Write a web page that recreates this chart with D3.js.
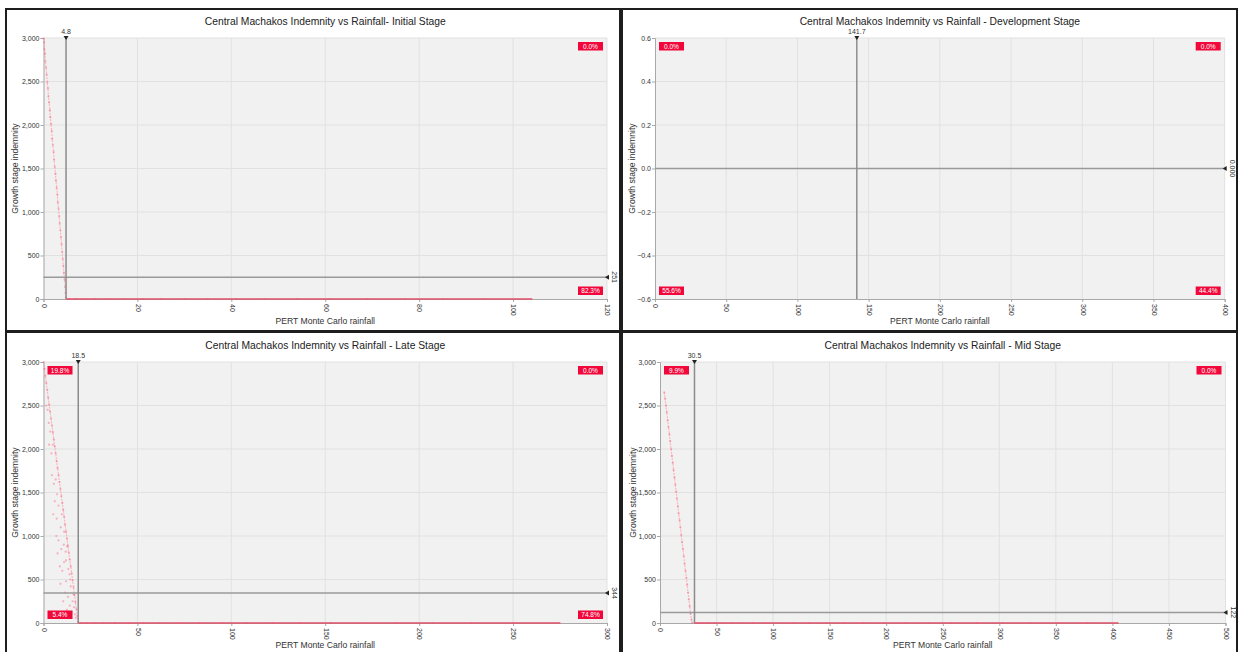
<!DOCTYPE html>
<html>
<head>
<meta charset="utf-8">
<script src="https://cdn.jsdelivr.net/npm/d3@7"></script>
<style>
  body { margin: 0; background: #fff; }
  svg { display: block; }
  text { font-family: "Liberation Sans", Arial, sans-serif; }
</style>
</head>
<body>
<script>
// ---- data ----
const titles = [
    'Central Machakos Indemnity vs Rainfall- Initial Stage',
    'Central Machakos Indemnity vs Rainfall - Development Stage',
    'Central Machakos Indemnity vs Rainfall - Late Stage',
    'Central Machakos Indemnity vs Rainfall - Mid Stage',
];
const xLabel = 'PERT Monte Carlo rainfall';
const yLabel = 'Growth stage indemnity';

const xTicksInitial = [0, 20, 40, 60, 80, 100, 120];
const xTicksDev = [0, 50, 100, 150, 200, 250, 300, 350, 400];
const xTicksLate = [0, 50, 100, 150, 200, 250, 300];
const xTicksMid = [0, 50, 100, 150, 200, 250, 300, 350, 400, 450, 500];
const yTicksIndemnity = [0, 500, 1000, 1500, 2000, 2500, 3000];
const yTicksDev = [-0.6, -0.4, -0.2, 0, 0.2, 0.4, 0.6];

// reference lines [rainfall, indemnity]
const refInitial = [4.8, 251];
const refDev = [141.7, 0];
const refLate = [18.5, 344];
const refMid = [30.5, 122];

// quadrant percentages [top-left, top-right, bottom-left, bottom-right]
const pctInitial = [null, '0.0%', null, '82.3%'];
const pctDev = ['0.0%', '0.0%', '55.6%', '44.4%'];
const pctLate = ['19.8%', '0.0%', '5.4%', '74.8%'];
const pctMid = ['9.9%', '0.0%', null, null];

// scatter samples [rainfall, indemnity]
const initialPoints = [
    [0.02, 2995], [0.12, 2950], [0.18, 2870], [0.32, 2820], [0.4, 2730], [0.55, 2660], [0.68, 2580],
    [0.8, 2490], [0.95, 2420], [1.05, 2330], [1.2, 2260], [1.35, 2170], [1.45, 2090], [1.6, 2010],
    [1.75, 1930], [1.85, 1840], [2.0, 1770], [2.15, 1690], [2.25, 1600], [2.4, 1520], [2.55, 1440],
    [2.65, 1360], [2.8, 1280], [2.95, 1200], [3.05, 1110], [3.2, 1040], [3.35, 950], [3.45, 870],
    [3.6, 790], [3.72, 710], [3.85, 630], [3.98, 540], [4.1, 460], [4.22, 380], [4.35, 300],
    [4.48, 220], [4.6, 140], [4.7, 70], [4.78, 15],
];
const initialZero = [4.9, 5.5, 7, 9, 11, 14, 17, 21, 25, 30, 35, 41, 47, 54, 61, 69, 77, 85, 94, 104];

// late stage: dense edge of the cloud, then loose samples inside it
const lateEdge = [
    [0, 3000], [0.5, 2920], [1, 2840], [1.5, 2760], [2, 2680], [2.5, 2590], [3, 2510], [3.5, 2430],
    [4, 2350], [4.5, 2270], [5, 2190], [5.5, 2110], [6, 2030], [6.5, 1950], [7, 1860], [7.5, 1780],
    [8, 1700], [8.5, 1620], [9, 1540], [9.5, 1460], [10, 1380], [10.5, 1300], [11, 1220], [11.5, 1130],
    [12, 1050], [12.5, 970], [13, 890], [13.5, 810], [14, 730], [14.5, 650], [15, 570], [15.5, 490],
    [16, 410], [16.5, 320], [17, 240], [17.5, 160], [18, 80], [18.4, 15],
];
const lateCloud = [
    [1.5, 2500], [2.8, 2300], [3, 2050], [4.2, 1950], [4.5, 1700], [5.5, 1600], [6, 1400], [5.2, 1250],
    [7, 1200], [6.8, 1000], [8, 950], [7.5, 800], [9.5, 850], [8.7, 650], [10, 600], [11, 700],
    [9, 450], [12, 480], [11.5, 350], [13, 300], [10.5, 250], [14, 200], [12.5, 150], [15, 120],
    [16, 330], [14.5, 420], [13.8, 560], [12, 720], [10.8, 900], [9.2, 1100], [8, 1350], [6.5, 1650],
    [5, 2050], [15.5, 250], [16.8, 100], [13.2, 620], [11.8, 820], [7.2, 1480], [3.6, 2200],
    [2.2, 2450], [9.8, 1250], [11, 1050], [12.6, 880], [14.2, 500], [16.2, 180], [17.2, 60],
];
const lateZero = [18.6, 20, 23, 27, 32, 38, 45, 53, 62, 72, 83, 95, 108, 122, 137, 153, 170, 188, 207, 228, 250, 275];

const midPoints = [
    [3.8, 2650], [4.5, 2580], [5.2, 2500], [6, 2420], [6.8, 2330], [7.5, 2250], [8.3, 2170], [9, 2090],
    [9.8, 2000], [10.5, 1920], [11.3, 1840], [12, 1760], [12.8, 1670], [13.5, 1590], [14.3, 1510],
    [15, 1430], [15.8, 1340], [16.5, 1260], [17.3, 1180], [18, 1100], [18.8, 1010], [19.5, 930],
    [20.3, 850], [21, 770], [21.8, 680], [22.5, 600], [23.3, 520], [24, 440], [24.8, 350], [25.5, 270],
    [26.3, 190], [27, 110], [27.8, 40], [28.5, 5],
];
const midZero = [30.6, 33, 37, 42, 48, 55, 63, 72, 82, 93, 105, 118, 132, 147, 163, 180, 198, 217, 237, 258, 280, 303, 327, 352, 378, 405];

const pointColor = '#ff4d6d';
const traceColor = '#ff8da1';
const zeroColor = '#de5068';
const badgeColor = '#f2073a';

const svg = d3.select('body')
    .append('svg')
    .attr('width', 1239)
    .attr('height', 652);

const panels = [
    {
        title: titles[0], frame: [6, 9, 614, 322], plot: [43.5, 38, 607, 299],
        xDomain: [0, 120], yDomain: [0, 3000], xTicks: xTicksInitial, yTicks: yTicksIndemnity,
        yFormat: d3.format(','), ref: refInitial, refFormat: d3.format('d'), pct: pctInitial,
        trace: initialPoints, points: [], zero: initialZero, yLabelX: 15,
    },
    {
        title: titles[1], frame: [622, 9, 615, 322], plot: [655, 38, 1224.7, 299],
        xDomain: [0, 400], yDomain: [-0.6, 0.6], xTicks: xTicksDev, yTicks: yTicksDev,
        yFormat: d3.format('.1f'), ref: refDev, refFormat: d3.format('.3f'), pct: pctDev,
        trace: [], points: [], zero: [], yLabelX: 632,
    },
    {
        title: titles[2], frame: [6, 332, 614, 330], plot: [43.5, 362, 607, 623],
        xDomain: [0, 300], yDomain: [0, 3000], xTicks: xTicksLate, yTicks: yTicksIndemnity,
        yFormat: d3.format(','), ref: refLate, refFormat: d3.format('d'), pct: pctLate,
        trace: lateEdge, points: lateCloud, zero: lateZero, yLabelX: 15,
    },
    {
        title: titles[3], frame: [622, 332, 615, 330], plot: [660, 362, 1225.5, 623],
        xDomain: [0, 500], yDomain: [0, 3000], xTicks: xTicksMid, yTicks: yTicksIndemnity,
        yFormat: d3.format(','), ref: refMid, refFormat: d3.format('d'), pct: pctMid,
        trace: midPoints, points: [], zero: midZero, yLabelX: 633,
    },
];

panels.forEach(drawPanel);

function drawPanel(p) {
    const [left, top, right, bottom] = p.plot;
    const g = svg.append('g');

    g.append('rect')
        .attr('x', p.frame[0]).attr('y', p.frame[1])
        .attr('width', p.frame[2]).attr('height', p.frame[3])
        .attr('fill', '#fff')
        .attr('stroke', '#1e1e1e')
        .attr('stroke-width', 2);

    const x = d3.scaleLinear().domain(p.xDomain).range([left, right]);
    const y = d3.scaleLinear().domain(p.yDomain).range([bottom, top]);

    // plot background + grid
    g.append('rect')
        .attr('x', left).attr('y', top)
        .attr('width', right - left).attr('height', bottom - top)
        .attr('fill', '#f1f1f1');
    g.append('g').selectAll('line')
        .data(p.xTicks.slice(1))
        .join('line')
        .attr('x1', d => x(d)).attr('x2', d => x(d))
        .attr('y1', top).attr('y2', bottom)
        .attr('stroke', '#e1e1e1');
    g.append('g').selectAll('line')
        .data(p.yTicks.slice(1))
        .join('line')
        .attr('x1', left).attr('x2', right)
        .attr('y1', d => y(d)).attr('y2', d => y(d))
        .attr('stroke', '#e1e1e1');

    // axes
    const yAxisG = g.append('g')
        .attr('transform', `translate(${left},0)`)
        .call(d3.axisLeft(y).tickValues(p.yTicks).tickFormat(p.yFormat).tickSize(3).tickPadding(1));
    const xAxisG = g.append('g')
        .attr('transform', `translate(0,${bottom})`)
        .call(d3.axisBottom(x).tickValues(p.xTicks).tickFormat(d3.format('d')).tickSize(3));
    xAxisG.selectAll('text')
        .attr('y', 0).attr('x', 5).attr('dy', '0.32em')
        .attr('transform', 'rotate(90)')
        .style('text-anchor', 'start');
    [yAxisG, xAxisG].forEach(a => {
        a.select('.domain').attr('stroke', '#a8a8a8');
        a.selectAll('.tick line').attr('stroke', '#a8a8a8');
        a.selectAll('text').attr('fill', '#333').style('font-size', '7px');
    });

    // scatter
    const line = d3.line().x(d => x(d[0])).y(d => y(d[1]));
    if (p.trace.length) {
        g.append('path')
            .datum(p.trace)
            .attr('fill', 'none')
            .attr('stroke', traceColor)
            .attr('stroke-width', 1.1)
            .attr('stroke-dasharray', '2,1')
            .attr('stroke-opacity', 0.6)
            .attr('d', line);
    }
    const zeroPts = p.zero.map(r => [r, 0]);
    if (zeroPts.length) {
        g.append('path')
            .datum(zeroPts)
            .attr('fill', 'none')
            .attr('stroke', zeroColor)
            .attr('stroke-width', 1.5)
            .attr('d', line);
    }
    g.append('g').selectAll('circle')
        .data(p.trace.concat(p.points, zeroPts))
        .join('circle')
        .attr('cx', d => x(d[0]))
        .attr('cy', d => y(d[1]))
        .attr('r', 1.1)
        .attr('fill', pointColor)
        .attr('fill-opacity', 0.4);

    // reference lines
    const rx = x(p.ref[0]);
    const ry = y(p.ref[1]);
    g.append('line')
        .attr('x1', left).attr('x2', right).attr('y1', ry).attr('y2', ry)
        .attr('stroke', '#9a9a9a').attr('stroke-width', 1.5);
    g.append('line')
        .attr('x1', rx).attr('x2', rx).attr('y1', top).attr('y2', bottom)
        .attr('stroke', '#8c8c8c').attr('stroke-width', 1.5);
    g.append('path')
        .attr('d', `M${rx - 2.5},${top - 2}L${rx + 2.5},${top - 2}L${rx},${top + 2}Z`)
        .attr('fill', '#222');
    g.append('text')
        .attr('x', rx).attr('y', top - 4)
        .attr('text-anchor', 'middle')
        .attr('fill', '#333')
        .style('font-size', '7px')
        .text(d3.format('.1f')(p.ref[0]));
    g.append('path')
        .attr('d', `M${right + 2},${ry - 2.5}L${right + 2},${ry + 2.5}L${right - 2},${ry}Z`)
        .attr('fill', '#222');
    g.append('text')
        .attr('transform', `translate(${right + 5},${ry}) rotate(90)`)
        .attr('text-anchor', 'middle')
        .attr('fill', '#333')
        .style('font-size', '7px')
        .text(p.refFormat(p.ref[1]));

    // quadrant badges
    const bw = 25, bh = 8.5;
    const spots = [
        [left + 4, top + 4], [right - 4 - bw, top + 4],
        [left + 4, bottom - 4 - bh], [right - 4 - bw, bottom - 4 - bh],
    ];
    p.pct.forEach((t, i) => {
        if (t === null) return;
        const b = g.append('g').attr('transform', `translate(${spots[i][0]},${spots[i][1]})`);
        b.append('rect').attr('width', bw).attr('height', bh).attr('fill', badgeColor);
        b.append('text')
            .attr('x', bw / 2).attr('y', bh / 2).attr('dy', '0.35em')
            .attr('text-anchor', 'middle')
            .attr('fill', '#fff')
            .style('font-size', '6.5px')
            .text(t);
    });

    // titles
    g.append('text')
        .attr('x', (left + right) / 2).attr('y', top - 13)
        .attr('text-anchor', 'middle')
        .attr('fill', '#222')
        .style('font-size', '10.3px')
        .text(p.title);
    g.append('text')
        .attr('x', (left + right) / 2).attr('y', bottom + 25)
        .attr('text-anchor', 'middle')
        .attr('fill', '#333')
        .style('font-size', '8.6px')
        .text(xLabel);
    g.append('text')
        .attr('transform', `translate(${p.yLabelX},${(top + bottom) / 2}) rotate(-90)`)
        .attr('text-anchor', 'middle')
        .attr('dy', '0.35em')
        .attr('fill', '#333')
        .style('font-size', '8.6px')
        .text(yLabel);
}
</script>
</body>
</html>
